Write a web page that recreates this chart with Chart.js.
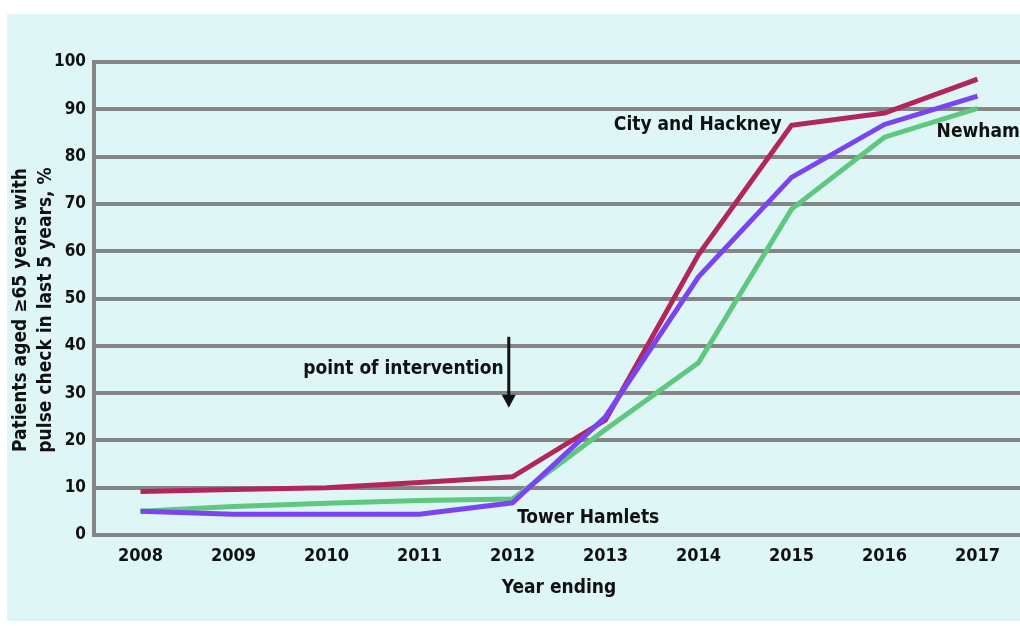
<!DOCTYPE html>
<html>
<head>
<meta charset="utf-8">
<script src="https://cdn.jsdelivr.net/npm/chart.js@4.4.1/dist/chart.umd.min.js"></script>
<style>
  html, body { margin: 0; padding: 0; background: #fff; overflow: hidden; }
  #panel { position: absolute; left: 7px; top: 14px; width: 1013px; height: 607px; background: #dff6f7; }
  #wrap { position: absolute; left: 0; top: 0; width: 1024px; height: 626px; }
</style>
</head>
<body>
<div id="panel"></div>
<div id="wrap"><canvas id="pulse-chart" width="1024" height="626"></canvas></div>
<script>
const years = ['2008', '2009', '2010', '2011', '2012', '2013', '2014', '2015', '2016', '2017'];
const cityHackney = [9.2, 9.6, 10.0, 11.1, 12.3, 24.3, 59.3, 86.6, 89.2, 96.4];
const towerHamlets = [5.0, 4.4, 4.4, 4.4, 6.8, 25.0, 54.6, 75.6, 86.8, 92.8];
const newham = [5.0, 6.0, 6.7, 7.3, 7.6, 22.3, 36.4, 68.9, 84.1, 90.2];
const yTicks = [0, 10, 20, 30, 40, 50, 60, 70, 80, 90, 100];
const yTitle = ['Patients aged \u226565 years with', 'pulse check in last 5 years, %'];

// labels placed on the plot, x as a (fractional) year index, y as a percentage
const seriesLabels = [
  { text: 'City and Hackney', x: 5.09, y: 86.6 },
  { text: 'Newham', x: 8.56, y: 85.1 },
  { text: 'Tower Hamlets', x: 4.05, y: 3.6 },
  { text: 'point of intervention', x: 1.75, y: 35.1 }
];
const interventionArrow = { x: 3.96, from: 41.9, to: 26.9 };

const FAMILY = '"DejaVu Sans Condensed", "DejaVu Sans", sans-serif';
const LABEL_FONT = 'bold 19px ' + FAMILY;

const annotations = {
  id: 'annotations',
  afterDatasetsDraw(chart) {
    const { ctx, scales: { x, y } } = chart;
    ctx.save();
    ctx.fillStyle = '#111';
    ctx.font = LABEL_FONT;
    ctx.textAlign = 'left';
    ctx.textBaseline = 'middle';
    seriesLabels.forEach(l => {
      ctx.fillText(l.text, x.getPixelForValue(l.x), y.getPixelForValue(l.y));
    });

    // arrow marking the intervention
    const ax = x.getPixelForValue(interventionArrow.x);
    const y0 = y.getPixelForValue(interventionArrow.from);
    const y1 = y.getPixelForValue(interventionArrow.to);
    ctx.strokeStyle = '#111';
    ctx.lineWidth = 3;
    ctx.beginPath();
    ctx.moveTo(ax, y0);
    ctx.lineTo(ax, y1 - 10);
    ctx.stroke();
    ctx.beginPath();
    ctx.moveTo(ax - 7, y1 - 13);
    ctx.lineTo(ax + 7, y1 - 13);
    ctx.lineTo(ax, y1);
    ctx.closePath();
    ctx.fill();

    // two-line y axis title, rotated
    ctx.translate(21, 310);
    ctx.rotate(-Math.PI / 2);
    ctx.textAlign = 'center';
    ctx.fillText(yTitle[0], 0, 0);
    ctx.fillText(yTitle[1], 0, 25);
    ctx.restore();
  }
};

const lineStyle = { borderWidth: 5, pointRadius: 0, tension: 0, fill: false };

new Chart(document.getElementById('pulse-chart'), {
  type: 'line',
  data: {
    labels: years,
    datasets: [
      { label: 'Tower Hamlets', data: towerHamlets, borderColor: '#7a45f0', ...lineStyle },
      { label: 'City and Hackney', data: cityHackney, borderColor: '#b3265c', ...lineStyle },
      { label: 'Newham', data: newham, borderColor: '#5fc77e', ...lineStyle }
    ]
  },
  options: {
    responsive: false,
    animation: false,
    layout: { padding: { top: 62, left: 0, right: 0, bottom: 0 } },
    plugins: { legend: { display: false }, tooltip: { enabled: false } },
    scales: {
      x: {
        offset: true,
        grid: { display: false },
        border: { display: false },
        ticks: {
          color: '#111',
          padding: 3,
          font: { family: FAMILY, size: 18, weight: 'bold' }
        },
        title: {
          display: true,
          text: 'Year ending',
          color: '#111',
          padding: { top: 0, bottom: 27 },
          font: { family: FAMILY, size: 19, weight: 'bold', lineHeight: '22px' }
        },
        afterFit(scale) { scale.height = 91; }
      },
      y: {
        min: 0,
        max: 100,
        afterBuildTicks(scale) { scale.ticks = yTicks.map(v => ({ value: v })); },
        grid: { color: '#858585', lineWidth: 4, drawTicks: false },
        border: { display: true, color: '#858585', width: 4 },
        ticks: {
          color: '#111',
          padding: 8,
          font: { family: FAMILY, size: 17, weight: 'bold' }
        },
        afterFit(scale) { scale.width = 94; }
      }
    }
  },
  plugins: [annotations]
});
</script>
</body>
</html>
